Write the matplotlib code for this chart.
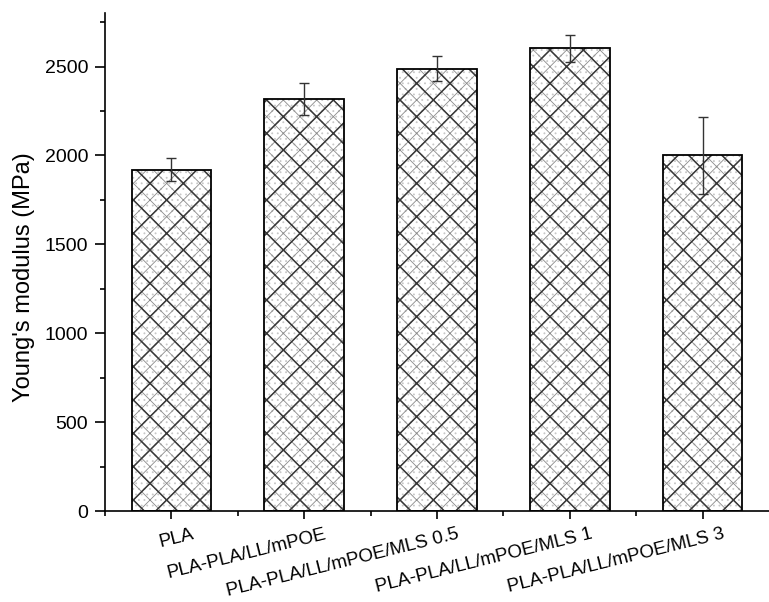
import matplotlib
matplotlib.use("Agg")
import matplotlib.pyplot as plt
import matplotlib.transforms as mtransforms
from matplotlib.ticker import MultipleLocator

# Daten
samples = ["PLA", "PLA-PLA/LL/mPOE", "PLA-PLA/LL/mPOE/MLS 0.5",
           "PLA-PLA/LL/mPOE/MLS 1", "PLA-PLA/LL/mPOE/MLS 3"]
modulus = [1920, 2315, 2488, 2603, 2000]
modulus_err = [65, 90, 70, 75, 215]

plt.rcParams["font.family"] = ["Liberation Sans", "DejaVu Sans"]

fig = plt.figure(figsize=(7.69, 6.02), dpi=100)
ax = fig.add_axes([0.1365, 0.151, 0.8635, 0.827])

x = list(range(len(samples)))

# Punktraster, feine und grobe Kreuzschraffur, Umriss
with plt.rc_context({"hatch.linewidth": 0.6}):
    ax.bar(x, modulus, width=0.6, color="white", edgecolor="#c8c8c8",
           hatch="...", linewidth=0, zorder=2)
    ax.bar(x, modulus, width=0.6, color="none", edgecolor="#8a8a8a",
           hatch="xx", linewidth=0, zorder=3)
with plt.rc_context({"hatch.linewidth": 1.1}):
    ax.bar(x, modulus, width=0.6, color="none", edgecolor="#383838",
           hatch="x", linewidth=0, zorder=3)
ax.bar(x, modulus, width=0.6, color="none", edgecolor="black",
       linewidth=1.3, zorder=4)
ax.errorbar(x, modulus, yerr=modulus_err, fmt="none", ecolor="#333333",
            elinewidth=1.0, capsize=3.5, capthick=1.0, zorder=5)

ax.set_xlim(-0.5, 4.5)
ax.set_ylim(0, 2800)
ax.yaxis.set_major_locator(MultipleLocator(500))
ax.yaxis.set_minor_locator(MultipleLocator(250))
ax.set_xticks(x)
ax.set_xticks([i + 0.5 for i in x[:-1]] + [-0.5], minor=True)

for s in ["top", "right"]:
    ax.spines[s].set_visible(False)
for s in ["left", "bottom"]:
    ax.spines[s].set_linewidth(1.2)

ax.tick_params(axis="y", which="major", length=7, width=1.2, pad=5, labelsize=14)
ax.tick_params(axis="y", which="minor", length=3.5, width=1.2)
ax.tick_params(axis="x", which="major", length=5.5, width=1.2)
ax.tick_params(axis="x", which="minor", length=3.5, width=1.2)

offset = mtransforms.ScaledTranslation(20 / 100, -2 / 100, fig.dpi_scale_trans)
ax.set_xticklabels(samples, rotation=14, ha="right", va="top",
                   rotation_mode="anchor", fontsize=13.5)
for lab in ax.get_xticklabels():
    lab.set_transform(lab.get_transform() + offset)

ax.set_ylabel("Young's modulus (MPa)", fontsize=17)
ax.yaxis.set_label_coords(-0.105, 0.47)

fig.savefig("out.png", dpi=100)
